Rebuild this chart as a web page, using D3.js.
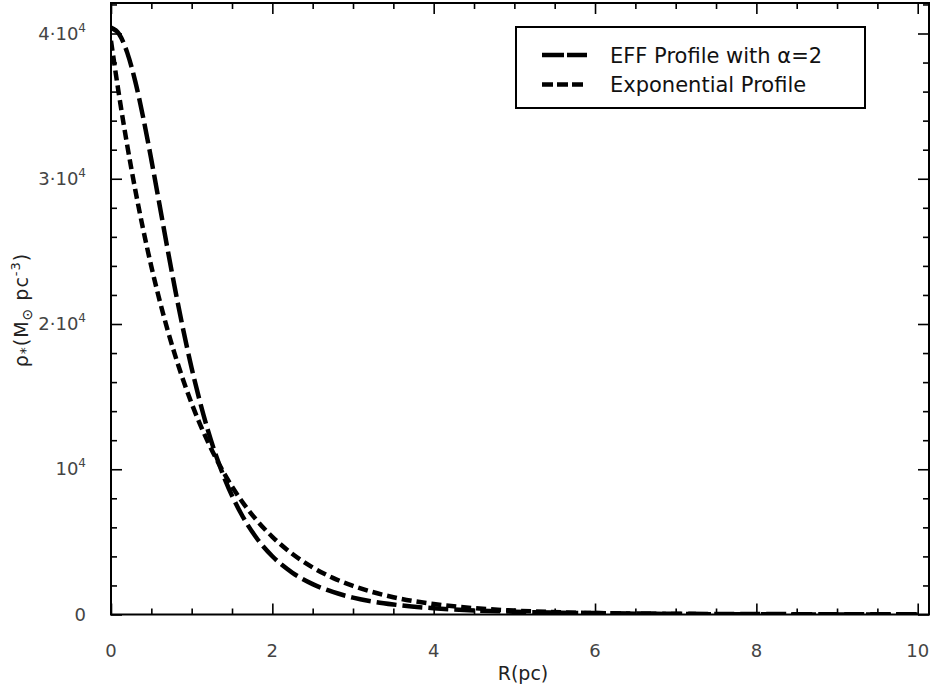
<!DOCTYPE html>
<html>
<head>
<meta charset="utf-8">
<script src="https://cdn.jsdelivr.net/npm/d3@7"></script>
<style>
  html, body { margin: 0; padding: 0; background: #fff; }
  svg { display: block; }
  .tick-label { font-family: "DejaVu Sans", sans-serif; font-size: 18px; fill: #444; }
  .axis-title { font-family: "DejaVu Sans", sans-serif; font-size: 19px; fill: #222; }
  .legend-text { font-family: "DejaVu Sans", sans-serif; font-size: 21px; fill: #111; }
</style>
</head>
<body>
<svg id="chart" width="934" height="688"></svg>
<script>
// Stellar density profiles, rho(R) in solar masses per cubic parsec
const radius = [0, 0.1, 0.2, 0.3, 0.4, 0.5, 0.6, 0.7, 0.8, 0.9, 1.0, 1.2, 1.4, 1.6, 1.8,
                2.0, 2.25, 2.5, 2.75, 3.0, 3.5, 4, 4.5, 5, 6, 7, 8, 9, 10];
const effDensity = [40400, 39960, 38700, 36720, 34190, 31310, 28260, 25190, 22240, 19480,
                    16960, 12710, 9470, 7070, 5300, 4010, 2870, 2090, 1550, 1160,
                    690, 430, 280, 190, 95, 53, 32, 20, 13];
const expDensity = [39500, 35740, 32340, 29260, 26480, 23960, 21680, 19620, 17750, 16060,
                    14530, 11900, 9740, 7970, 6530, 5350, 4160, 3240, 2520, 1970,
                    1190, 720, 440, 270, 98, 36, 13, 5, 2];

const seriesNames = ["EFF Profile with \u03b1=2", "Exponential Profile"];
const xMajorTicks = [0, 2, 4, 6, 8, 10];
const yMajorTicks = [0, 10000, 20000, 30000, 40000];
const yTickMantissa = ["0", "", "2\u00b7", "3\u00b7", "4\u00b7"];

const svg = d3.select("#chart");
const plotLeft = 111, plotRight = 929, plotTop = 3, plotBottom = 614.5;

const x = d3.scaleLinear().domain([0, 10.14]).range([plotLeft, plotRight]);
const y = d3.scaleLinear().domain([0, 42100]).range([plotBottom, plotTop]);

const xMinor = d3.range(0, 10.01, 0.5).filter(v => !xMajorTicks.includes(v));
const yMinor = d3.range(0, 42001, 2000).filter(v => !yMajorTicks.includes(v));

// inward ticks on all four sides
function tickLayer(axisFn, scale, values, size, transform) {
  svg.append("g")
    .attr("transform", transform)
    .call(axisFn(scale).tickValues(values).tickSizeInner(-size).tickSizeOuter(0).tickFormat(""))
    .call(g => g.select(".domain").remove())
    .call(g => g.selectAll("line").attr("stroke", "#000").attr("stroke-width", 1.6));
}
tickLayer(d3.axisBottom, x, xMajorTicks, 11, `translate(0,${plotBottom})`);
tickLayer(d3.axisBottom, x, xMinor, 6, `translate(0,${plotBottom})`);
tickLayer(d3.axisTop, x, xMajorTicks, 11, `translate(0,${plotTop})`);
tickLayer(d3.axisTop, x, xMinor, 6, `translate(0,${plotTop})`);
tickLayer(d3.axisLeft, y, yMajorTicks, 11, `translate(${plotLeft},0)`);
tickLayer(d3.axisLeft, y, yMinor, 6, `translate(${plotLeft},0)`);
tickLayer(d3.axisRight, y, yMajorTicks, 11, `translate(${plotRight},0)`);
tickLayer(d3.axisRight, y, yMinor, 6, `translate(${plotRight},0)`);

// x tick labels
svg.append("g").selectAll("text")
  .data(xMajorTicks).join("text")
  .attr("class", "tick-label")
  .attr("x", d => x(d)).attr("y", 657)
  .attr("text-anchor", "middle")
  .text(d => d);

// y tick labels, written as mantissa·10^4
const yLab = svg.append("g").selectAll("text")
  .data(yMajorTicks).join("text")
  .attr("class", "tick-label")
  .attr("x", 86).attr("y", d => y(d) + 6)
  .attr("text-anchor", "end");
yLab.each(function (d, i) {
  const t = d3.select(this);
  if (d === 0) { t.text("0"); return; }
  t.append("tspan").text(yTickMantissa[i] + "10");
  t.append("tspan").attr("dy", -8).attr("font-size", 12).text("4");
});

// axis titles
svg.append("text")
  .attr("class", "axis-title")
  .attr("x", 523).attr("y", 680)
  .attr("text-anchor", "middle")
  .text("R(pc)");

const yTitle = svg.append("text")
  .attr("class", "axis-title")
  .attr("transform", "translate(28,310) rotate(-90)")
  .attr("text-anchor", "middle")
  .style("letter-spacing", "1px");
yTitle.append("tspan").text("\u03c1");
yTitle.append("tspan").attr("font-size", 14).attr("dy", 2).text("*");
yTitle.append("tspan").attr("dy", -2).text("(M");
yTitle.append("tspan").attr("font-size", 14).attr("dy", 4).text("\u2299");
yTitle.append("tspan").attr("dy", -4).text(" pc");
yTitle.append("tspan").attr("font-size", 13).attr("dy", -8).text("-3");
yTitle.append("tspan").attr("dy", 8).text(")");

// curves
svg.append("clipPath").attr("id", "plot-clip")
  .append("rect").attr("x", plotLeft).attr("y", plotTop)
  .attr("width", plotRight - plotLeft).attr("height", plotBottom - plotTop);

const line = d3.line().x(d => x(d[0])).y(d => y(d[1])).curve(d3.curveMonotoneX);
const effPts = radius.map((r, i) => [r, effDensity[i]]);
const expPts = radius.map((r, i) => [r, expDensity[i]]);

const dashes = ["20,6", "10,5"];
const curves = svg.append("g").attr("clip-path", "url(#plot-clip)");
[effPts, expPts].forEach((pts, i) => {
  curves.append("path")
    .datum(pts)
    .attr("fill", "none")
    .attr("stroke", "#000")
    .attr("stroke-width", 4.5)
    .attr("stroke-dasharray", dashes[i])
    .attr("d", line);
});

// frame
svg.append("rect")
  .attr("x", plotLeft).attr("y", plotTop)
  .attr("width", plotRight - plotLeft).attr("height", plotBottom - plotTop)
  .attr("fill", "none").attr("stroke", "#000").attr("stroke-width", 2);

// legend
const lg = svg.append("g");
lg.append("rect").attr("x", 516).attr("y", 27).attr("width", 349).attr("height", 81)
  .attr("fill", "#fff").attr("stroke", "#000").attr("stroke-width", 2);
seriesNames.forEach((name, i) => {
  const ly = 55 + i * 29.5;
  lg.append("line").attr("x1", 542).attr("x2", 587).attr("y1", ly).attr("y2", ly)
    .attr("stroke", "#000").attr("stroke-width", 4.5)
    .attr("stroke-dasharray", i === 0 ? "22,3" : "11,4");
  lg.append("text").attr("class", "legend-text")
    .attr("x", 610).attr("y", ly + 7.5)
    .text(name);
});
</script>
</body>
</html>
